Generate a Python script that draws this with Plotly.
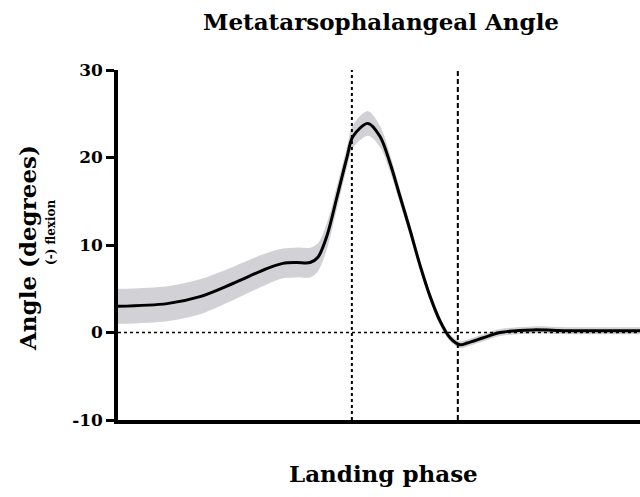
import plotly.graph_objects as go

# Data
phase = [0, 9.4, 15.7, 22.0, 28.5, 31.6, 34.2, 36.8, 38.3, 40.0, 42.0, 43.9, 45.0, 47.9, 50.2,
         52.1, 54.0, 55.9, 57.9, 59.8, 61.7, 63.6, 65.5, 66.9, 70.0, 73.2, 79.5, 86.0, 100]
mean_angle = [3.0, 3.3, 4.1, 5.6, 7.3, 7.9, 8.0, 8.0, 8.6, 11.0, 15.6, 20.1, 22.4, 23.9, 22.4,
              19.4, 15.6, 11.8, 7.6, 4.1, 1.3, -0.6, -1.4, -1.2, -0.6, 0.0, 0.3, 0.2, 0.2]
sd_angle = [2.0, 2.0, 2.0, 1.9, 1.8, 1.7, 1.7, 1.7, 1.6, 1.5, 1.3, 1.2, 1.3, 1.4, 1.2,
            1.0, 0.8, 0.7, 0.6, 0.5, 0.5, 0.4, 0.4, 0.4, 0.4, 0.4, 0.4, 0.4, 0.4]
event_lines = [44.8, 65.1]
y_ticks = [-10, 0, 10, 20, 30]

upper = [m + s for m, s in zip(mean_angle, sd_angle)]
lower = [m - s for m, s in zip(mean_angle, sd_angle)]

FONT = "DejaVu Serif"
W, H = 640, 497
L, T, B, R = 118, 70, 77, 0

fig = go.Figure()
fig.add_trace(go.Scatter(x=phase, y=upper, mode="lines",
                         line=dict(width=0, shape="spline", smoothing=0.9),
                         showlegend=False, hoverinfo="skip"))
fig.add_trace(go.Scatter(x=phase, y=lower, mode="lines",
                         line=dict(width=0, shape="spline", smoothing=0.9),
                         fill="tonexty", fillcolor="rgb(210,210,214)",
                         showlegend=False, hoverinfo="skip"))
fig.add_trace(go.Scatter(x=phase, y=mean_angle, mode="lines",
                         line=dict(color="black", width=3, shape="spline", smoothing=0.9),
                         showlegend=False))

fig.add_shape(type="line", x0=0, x1=100, y0=0, y1=0, xref="x", yref="y",
              line=dict(color="black", width=1.3, dash="dot"))
dashes = ["3px,3px", "5px,3px"]
for xv, d in zip(event_lines, dashes):
    fig.add_shape(type="line", x0=xv, x1=xv, y0=-10, y1=30, xref="x", yref="y",
                  line=dict(color="black", width=2, dash=d))

w_plot = W - L - R
h_plot = H - T - B
def px_to_paper(px, py):
    return (px - L) / w_plot, (H - B - py) / h_plot

tx, ty = px_to_paper(381, 22)
xx, xy = px_to_paper(383, 473)
ax, ay = px_to_paper(27, 248)
bx, by = px_to_paper(51, 232)

fig.update_layout(
    width=W, height=H,
    margin=dict(l=L, r=R, t=T, b=B, pad=0),
    plot_bgcolor="white", paper_bgcolor="white",
    xaxis=dict(range=[0, 100], showline=True, linecolor="black", linewidth=3.5,
               showticklabels=False, ticks="", showgrid=False, zeroline=False),
    yaxis=dict(range=[-10, 30], tickvals=y_ticks,
               ticktext=["<b>%d</b>" % v for v in y_ticks],
               showline=True, linecolor="black", linewidth=3.5, ticks="outside",
               ticklen=8, tickwidth=3, tickcolor="black", showgrid=False, zeroline=False,
               tickfont=dict(family=FONT, size=17, color="black")),
    annotations=[
        dict(text="<b>Metatarsophalangeal Angle</b>", x=tx, y=ty, xref="paper", yref="paper",
             showarrow=False, xanchor="center", yanchor="middle",
             font=dict(family=FONT, size=23, color="black")),
        dict(text="<b>Landing phase</b>", x=xx, y=xy, xref="paper", yref="paper",
             showarrow=False, xanchor="center", yanchor="middle",
             font=dict(family=FONT, size=23, color="black")),
        dict(text="<b>Angle (degrees)</b>", x=ax, y=ay, xref="paper", yref="paper",
             showarrow=False, textangle=-90, xanchor="center", yanchor="middle",
             font=dict(family=FONT, size=23, color="black")),
        dict(text="<b>(-) flexion</b>", x=bx, y=by, xref="paper", yref="paper",
             showarrow=False, textangle=-90, xanchor="center", yanchor="middle",
             font=dict(family=FONT, size=12, color="black")),
    ],
)
fig.write_html("out.html", config={"displayModeBar": False},
               post_script="document.body.style.margin='0';document.body.style.overflow='hidden';")
